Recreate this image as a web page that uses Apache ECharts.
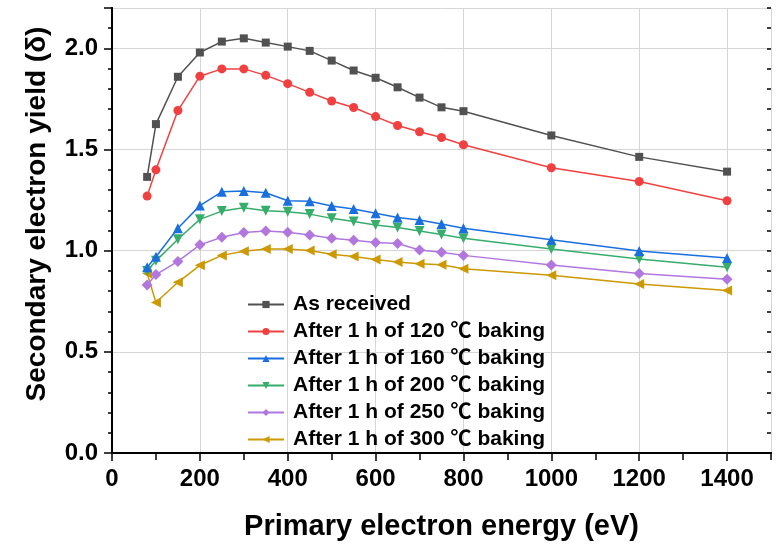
<!DOCTYPE html>
<html>
<head>
<meta charset="utf-8">
<script src="https://cdn.jsdelivr.net/npm/echarts@6/dist/echarts.min.js"></script>
<style>
  html, body { margin: 0; padding: 0; background: #ffffff; }
  #chart { width: 782px; height: 547px; }
</style>
</head>
<body>
<div id="chart"></div>
<script>
// Primary electron energy (eV)
const energy = [80, 100, 150, 200, 250, 300, 350, 400, 450, 500, 550, 600, 650, 700, 750, 800, 1000, 1200, 1400];

// Secondary electron yield for each surface treatment
const asReceived = [1.365, 1.626, 1.860, 1.980, 2.034, 2.050, 2.029, 2.009, 1.988, 1.940, 1.891, 1.855, 1.808, 1.757, 1.709, 1.690, 1.570, 1.464, 1.391];
const baked120 = [1.270, 1.400, 1.693, 1.863, 1.899, 1.899, 1.867, 1.826, 1.783, 1.740, 1.708, 1.663, 1.619, 1.588, 1.560, 1.524, 1.410, 1.342, 1.247];
const baked160 = [0.918, 0.970, 1.111, 1.223, 1.291, 1.295, 1.287, 1.247, 1.245, 1.221, 1.206, 1.185, 1.164, 1.152, 1.132, 1.111, 1.054, 0.999, 0.964];
const baked200 = [0.900, 0.950, 1.057, 1.155, 1.196, 1.213, 1.198, 1.193, 1.181, 1.160, 1.144, 1.127, 1.115, 1.098, 1.080, 1.062, 1.009, 0.959, 0.918];
const baked250 = [0.831, 0.882, 0.947, 1.029, 1.067, 1.090, 1.098, 1.091, 1.078, 1.062, 1.052, 1.041, 1.036, 1.004, 0.993, 0.977, 0.929, 0.888, 0.859];
const baked300 = [0.888, 0.744, 0.844, 0.928, 0.977, 0.997, 1.008, 1.008, 1.001, 0.983, 0.972, 0.957, 0.944, 0.936, 0.931, 0.911, 0.879, 0.836, 0.803];

const seriesNames = [
  'As received',
  'After 1 h of 120 \u2103 baking',
  'After 1 h of 160 \u2103 baking',
  'After 1 h of 200 \u2103 baking',
  'After 1 h of 250 \u2103 baking',
  'After 1 h of 300 \u2103 baking'
];
const seriesValues = [asReceived, baked120, baked160, baked200, baked250, baked300];

const colors = ['#515151', '#F14040', '#1A6FDF', '#37AD6B', '#B177DE', '#CC9900'];
const symbols = ['rect', 'circle', 'triangle', 'triangle', 'diamond', 'triangle'];
const symbolSizes = [8, 9, 10, 10, 11, 10];
const symbolRotates = [0, 0, 0, 180, 0, 90];

const FONT = '"Liberation Sans", Arial, "Noto Sans CJK SC", sans-serif';

const chart = echarts.init(document.getElementById('chart'), null, { renderer: 'canvas' });

const series = seriesNames.map((name, k) => ({
  name: name,
  type: 'line',
  xAxisIndex: 0,
  yAxisIndex: 0,
  data: energy.map((e, i) => [e, seriesValues[k][i]]),
  symbol: symbols[k],
  symbolSize: symbolSizes[k],
  symbolRotate: symbolRotates[k],
  showAllSymbol: true,
  lineStyle: { color: colors[k], width: 1.5 },
  itemStyle: { color: colors[k] },
  z: 10 - k
}));

const frame = { show: true, lineStyle: { color: '#000000', width: 2 } };
const noLine = { show: false };

chart.setOption({
  animation: false,
  backgroundColor: '#ffffff',
  grid: { left: 112, right: 11, top: 8, bottom: 91, containLabel: false },
  xAxis: [
    {
      type: 'value', position: 'bottom', min: 0, max: 1500, interval: 200,
      name: 'Primary electron energy (eV)',
      nameLocation: 'middle', nameGap: 60,
      nameTextStyle: { fontSize: 29, fontWeight: 'bold', color: '#000', fontFamily: FONT },
      axisLine: frame,
      axisTick: { show: true, inside: false, length: 8, lineStyle: { color: '#000', width: 1.5 } },
      axisLabel: {
        show: true, fontSize: 24, fontWeight: 'bold', color: '#000', fontFamily: FONT, margin: 14,
        showMaxLabel: false, formatter: v => String(v)
      },
      splitLine: { show: true, lineStyle: { color: '#d6d6d6', width: 1 } }
    },
    {
      type: 'value', position: 'bottom', min: 0, max: 1500, interval: 100,
      axisLine: noLine,
      axisTick: { show: true, inside: false, length: 5, lineStyle: { color: '#000', width: 1.5 } },
      axisLabel: { show: false },
      splitLine: { show: false }
    },
    {
      type: 'value', position: 'top', min: 0, max: 1500, interval: 100,
      axisLine: frame,
      axisTick: { show: true, inside: true, length: 7, lineStyle: { color: '#000', width: 1.5 } },
      axisLabel: { show: false },
      splitLine: { show: false }
    }
  ],
  yAxis: [
    {
      type: 'value', position: 'left', min: 0, max: 2.2, interval: 0.5,
      axisLine: frame,
      axisTick: { show: true, inside: false, length: 8, lineStyle: { color: '#000', width: 1.5 } },
      axisLabel: {
        show: true, fontSize: 24, fontWeight: 'bold', color: '#000', fontFamily: FONT, margin: 14,
        showMaxLabel: false, formatter: v => v.toFixed(1)
      },
      splitLine: { show: true, lineStyle: { color: '#d6d6d6', width: 1 } }
    },
    {
      type: 'value', position: 'left', min: 0, max: 2.2, interval: 0.1,
      axisLine: noLine,
      axisTick: { show: true, inside: false, length: 4, lineStyle: { color: '#000', width: 1.5 } },
      axisLabel: { show: false },
      splitLine: { show: false }
    },
    {
      type: 'value', position: 'right', min: 0, max: 2.2, interval: 0.5,
      axisLine: frame,
      axisTick: { show: true, inside: true, length: 8, lineStyle: { color: '#000', width: 1.5 } },
      axisLabel: { show: false },
      splitLine: { show: false }
    },
    {
      type: 'value', position: 'right', min: 0, max: 2.2, interval: 0.1,
      axisLine: noLine,
      axisTick: { show: true, inside: true, length: 4, lineStyle: { color: '#000', width: 1.5 } },
      axisLabel: { show: false },
      splitLine: { show: false }
    }
  ],
  legend: {
    orient: 'vertical',
    left: 247, top: 294, padding: 0,
    itemWidth: 36, itemHeight: 9, itemGap: 6,
    data: seriesNames,
    textStyle: { fontSize: 21, fontWeight: 'bold', color: '#000', fontFamily: FONT, lineHeight: 21, padding: [0, 0, 0, 4] }
  },
  graphic: [
    {
      type: 'text',
      x: 37, y: 214,
      rotation: Math.PI / 2,
      style: {
        text: 'Secondary electron yield (\u03B4)',
        fontSize: 28, fontWeight: 'bold', fontFamily: FONT,
        fill: '#000', align: 'center', verticalAlign: 'middle'
      }
    }
  ],
  series: series
});
</script>
</body>
</html>
